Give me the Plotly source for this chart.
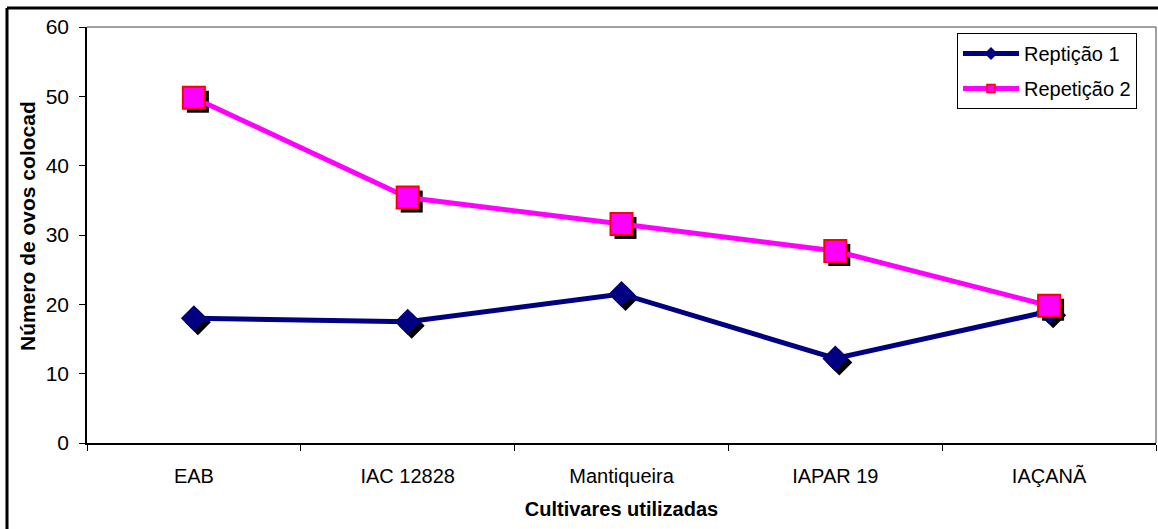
import plotly.graph_objects as go

categories = ["EAB", "IAC 12828", "Mantiqueira", "IAPAR 19", "IAÇANÃ"]
rep1 = [18.0, 17.5, 21.5, 12.2, 19.0]
rep2 = [49.8, 35.4, 31.6, 27.7, 19.8]
y_ticks = [0, 10, 20, 30, 40, 50, 60]

W, H = 1158, 529
L, R, T, B = 87, 2, 27, 86
pw = W - L - R
ph = H - T - B
xr = [-0.5, len(categories) - 0.5]
yr = [0, 60]
# shadow offsets in pixels
sx, sy = 4, 4
dx = sx * (xr[1] - xr[0]) / pw
dy = sy * (yr[1] - yr[0]) / ph

FONT = "Liberation Sans, Arial, sans-serif"
navy = "#000080"
mag = "#FF00FF"

fig = go.Figure()

# anchor trace for the visible base axes (transparent)
fig.add_trace(go.Scatter(x=categories, y=rep1, mode="markers", xaxis="x", yaxis="y",
                         marker=dict(opacity=0, size=1), showlegend=False, hoverinfo="skip"))

# shadows (axis 2, shifted range)
fig.add_trace(go.Scatter(x=categories, y=rep1, mode="markers", xaxis="x2", yaxis="y2",
                         marker=dict(symbol="diamond", size=20, color="black", line=dict(width=0)),
                         showlegend=False, hoverinfo="skip"))
fig.add_trace(go.Scatter(x=categories, y=rep2, mode="markers", xaxis="x2", yaxis="y2",
                         marker=dict(symbol="square", size=22, color="black", line=dict(width=0)),
                         showlegend=False, hoverinfo="skip"))

# main traces (axis 3)
fig.add_trace(go.Scatter(x=categories, y=rep1, mode="lines+markers", xaxis="x3", yaxis="y3",
                         name="Reptição 1", line=dict(color=navy, width=5),
                         marker=dict(symbol="diamond", size=20, color=navy, line=dict(width=0)),
                         showlegend=False))
fig.add_trace(go.Scatter(x=categories, y=rep2, mode="lines+markers", xaxis="x3", yaxis="y3",
                         name="Repetição 2", line=dict(color=mag, width=5),
                         marker=dict(symbol="square", size=22, color=mag, line=dict(width=2, color="red")),
                         showlegend=False))

# legend-only entries
fig.add_trace(go.Scatter(x=[None], y=[None], mode="lines+markers", xaxis="x3", yaxis="y3",
                         name="Reptição 1", legendgroup="a", line=dict(color=navy, width=5),
                         marker=dict(symbol="diamond", size=10, color=navy)))
fig.add_trace(go.Scatter(x=[None], y=[None], mode="lines+markers", xaxis="x3", yaxis="y3",
                         name="Repetição 2", legendgroup="b", line=dict(color=mag, width=5),
                         marker=dict(symbol="square", size=8, color=mag, line=dict(width=1.5, color="red"))))

fig.update_layout(
    width=W, height=H,
    margin=dict(l=L, r=R, t=T, b=B, pad=0),
    paper_bgcolor="white", plot_bgcolor="white",
    font=dict(family=FONT, size=20, color="black"),
    xaxis=dict(type="category", categoryorder="array", categoryarray=categories,
               range=xr, showgrid=False, zeroline=False, showline=True, linecolor="black", linewidth=1.5,
               ticks="outside", tickson="boundaries", ticklen=6, tickcolor="black",
               ticklabelstandoff=14,
               tickfont=dict(size=20), mirror=False,
               title=dict(text="<b>Cultivares utilizadas</b>", font=dict(size=20), standoff=16)),
    yaxis=dict(range=yr, tickvals=y_ticks, showgrid=False, zeroline=False, showline=True,
               linecolor="black", linewidth=1.5, ticks="outside", ticklen=6, tickcolor="black",
               ticklabelstandoff=6, tickfont=dict(size=21)),
    xaxis2=dict(type="category", categoryorder="array", categoryarray=categories,
                range=[xr[0] - dx, xr[1] - dx], overlaying="x", visible=False),
    yaxis2=dict(range=[yr[0] + dy, yr[1] + dy], overlaying="y", visible=False),
    xaxis3=dict(type="category", categoryorder="array", categoryarray=categories,
                range=xr, overlaying="x", visible=False),
    yaxis3=dict(range=yr, overlaying="y", visible=False),
    legend=dict(x=(957 - L) / pw, y=1 - (33 - T) / ph, xanchor="left", yanchor="top",
                bgcolor="white", bordercolor="black", borderwidth=1,
                font=dict(size=20), tracegroupgap=6, traceorder="grouped", itemwidth=56),
    showlegend=True,
)

# plot area grey border (top/right)
fig.add_shape(type="line", xref="paper", yref="paper", x0=0, x1=1, y0=1, y1=1,
              line=dict(color="#808080", width=1.5))
fig.add_shape(type="line", xref="paper", yref="paper", x0=1, x1=1, y0=0, y1=1,
              line=dict(color="#808080", width=1.5))
# outer chart frame (top/left)
fig.add_shape(type="line", xref="paper", yref="paper",
              x0=(7 - L) / pw, x1=(W - L) / pw, y0=1 + (T - 8) / ph, y1=1 + (T - 8) / ph,
              line=dict(color="black", width=3))
fig.add_shape(type="line", xref="paper", yref="paper",
              x0=(7 - L) / pw, x1=(7 - L) / pw, y0=1 + (T - 8) / ph, y1=-(H - T - ph) / ph,
              line=dict(color="black", width=3))

# y-axis title (clipped in original)
fig.add_annotation(text="<b>Número de ovos colocad</b>", textangle=-90,
                   xref="paper", yref="paper", x=(27 - L) / pw, y=(443 - 353) / ph,
                   xanchor="center", yanchor="bottom", showarrow=False, font=dict(size=21))

fig.write_html("out.html", config={"displayModeBar": False},
               post_script="document.body.style.margin='0';document.body.style.overflow='hidden';")
